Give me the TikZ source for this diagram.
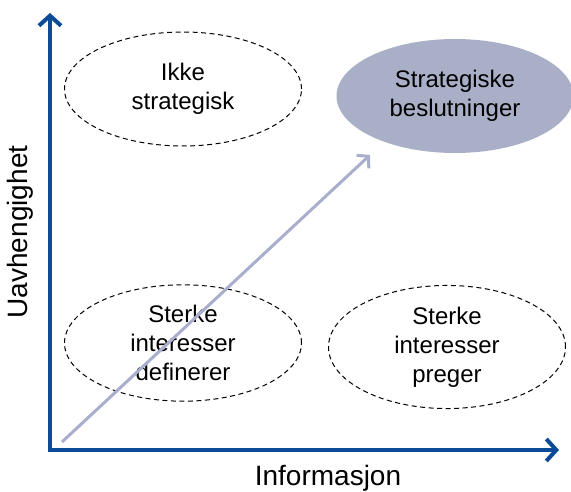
\documentclass[tikz,border=0pt]{standalone}
\usepackage{fontspec}
\setmainfont{Liberation Sans}
\usetikzlibrary{arrows.meta,positioning,shapes.geometric}
\definecolor{AxisBlue}{HTML}{0B4A97}
\definecolor{Lilac}{HTML}{A9AFC7}
\definecolor{ArrowGray}{HTML}{A8AECB}
\tikzset{
  zone/.style={
    ellipse, draw=black, dashed, dash pattern=on 5pt off 3.5pt, line width=1pt,
    minimum width=237pt, minimum height=114pt, align=center,
    font=\fontsize{24}{29}\selectfont
  },
  goal/.style={zone, draw=none, fill=Lilac},
  axis/.style={line width=4pt, draw=AxisBlue,
    {Straight Barb[length=10pt,width=22pt,line join=miter]}-{Straight Barb[length=10pt,width=22pt,line join=miter]}},
  trend/.style={-{Straight Barb[length=8pt,width=18pt]}, line width=3pt, draw=ArrowGray},
  axislabel/.style={font=\fontsize{28}{32}\selectfont}
}
\begin{document}
\begin{tikzpicture}[x=1pt,y=-1pt]
  \useasboundingbox (0,0) rectangle (571,492);
  \coordinate (origin) at (50,450);
  \coordinate (ytop) at (50,13);
  \coordinate (xend) at (559,450);
  \coordinate (start) at (62,442);
  \coordinate (tip) at (370,155);
  % quadrants
  \node[zone] (ikke) at (183,89) {Ikke\\strategisk};
  \node[goal] (strat) at (455,96) {Strategiske\\beslutninger};
  \node[zone] (definerer) at (183,343) {Sterke\\interesser\\definerer};
  \node[zone] (preger) at (447,347) {Sterke\\interesser\\preger};
  % axes
  \draw[axis] (ytop) |- (xend);
  \node[axislabel,rotate=90] (uavh) at (20,232) {Uavhengighet};
  \node[axislabel] (info) at (328,478) {Informasjon};
  \draw[trend] (start) -- (tip);
\end{tikzpicture}
\end{document}
